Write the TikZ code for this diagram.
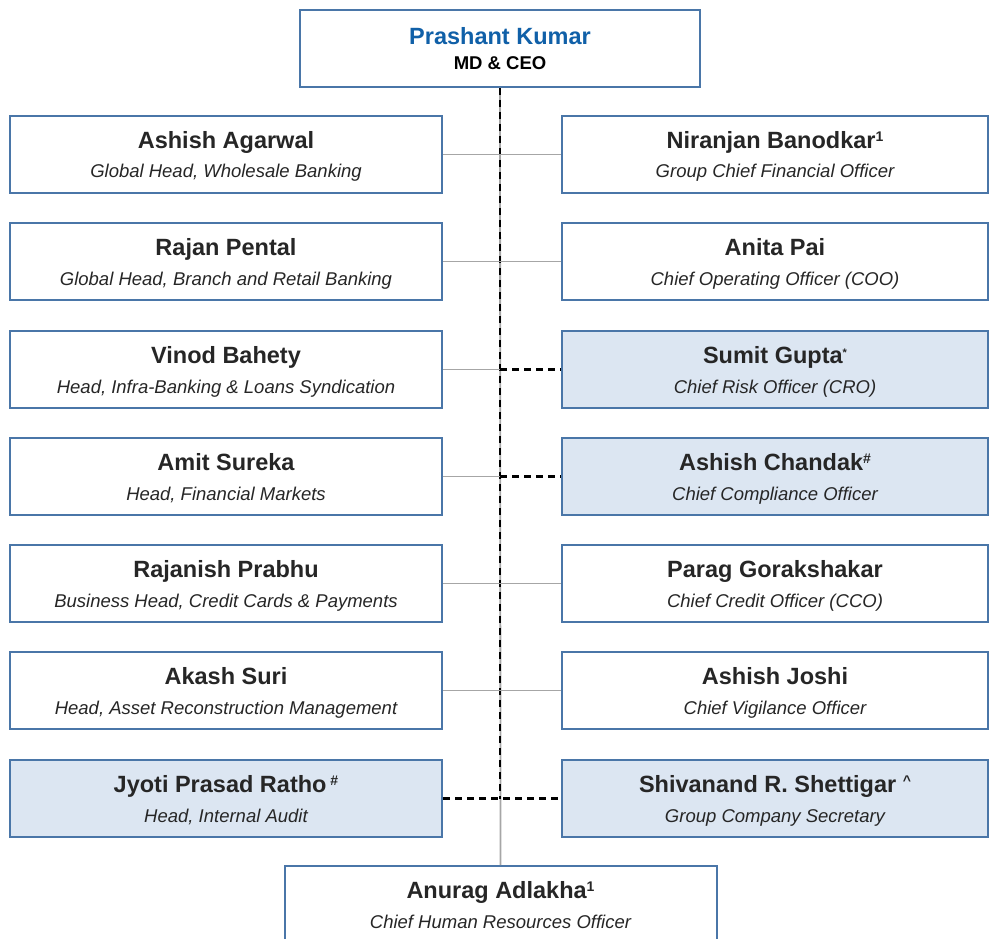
\documentclass[tikz,border=0pt]{standalone}
\usepackage{fontspec}
\setmainfont{Liberation Sans}
\usetikzlibrary{positioning}

\definecolor{boxblue}{RGB}{74,118,168}
\definecolor{boxfill}{RGB}{220,230,242}
\definecolor{ceoblue}{RGB}{16,96,168}
\definecolor{namegray}{RGB}{38,38,38}
\definecolor{linkgray}{RGB}{166,166,166}

% name line and title line, with struts so every box spaces them alike
\newcommand{\who}[2]{{\fontsize{23.5}{24}\selectfont\bfseries\rule[-6pt]{0pt}{31.3pt}#1}\\{\fontsize{18.5}{20}\selectfont\itshape\rule[-8pt]{0pt}{30.7pt}#2}}
% small mark after a name
\newcommand{\upmark}[1]{\raisebox{6.5pt}{\fontsize{14}{14}\selectfont #1}}

\tikzset{
  person/.style={draw=boxblue, line width=2pt, fill=white, text=namegray, align=center, inner sep=0pt, minimum height=77pt},
  lbox/.style={person, minimum width=432pt},
  rbox/.style={person, minimum width=426pt},
  shaded/.style={fill=boxfill},
  solidlink/.style={draw=linkgray, line width=1.8pt},
  dashlink/.style={draw=black, line width=2.2pt, dash pattern=on 7pt off 5pt}
}

\begin{document}
\begin{tikzpicture}[x=1pt,y=-1pt]
\useasboundingbox (0,0) rectangle (989,939);

%top of the chart
\node[person, minimum width=400pt] (ceo) at (500,48.5) {{\fontsize{23.5}{24}\selectfont\bfseries\color{ceoblue}\rule[-5pt]{0pt}{27.3pt}Prashant Kumar}\\{\fontsize{18.5}{20}\selectfont\bfseries\color{black}\rule[-5pt]{0pt}{23.3pt}MD \& CEO}};

%left column
\node[lbox] (l1) at (226,154.5) {\who{Ashish Agarwal}{Global Head, Wholesale Banking}};
\node[lbox] (l2) at (226,261.5) {\who{Rajan Pental}{Global Head, Branch and Retail Banking}};
\node[lbox] (l3) at (226,369.5) {\who{Vinod Bahety}{Head, Infra-Banking \& Loans Syndication}};
\node[lbox] (l4) at (226,476.5) {\who{Amit Sureka}{Head, Financial Markets}};
\node[lbox] (l5) at (226,583.5) {\who{Rajanish Prabhu}{Business Head, Credit Cards \& Payments}};
\node[lbox] (l6) at (226,690.5) {\who{Akash Suri}{Head, Asset Reconstruction Management}};
\node[lbox, shaded] (l7) at (226,798.5) {\who{Jyoti Prasad Ratho\,\upmark{\#}}{Head, Internal Audit}};

%right column
\node[rbox] (r1) at (775,154.5) {\who{Niranjan Banodkar\upmark{1}}{Group Chief Financial Officer}};
\node[rbox] (r2) at (775,261.5) {\who{Anita Pai}{Chief Operating Officer (COO)}};
\node[rbox, shaded] (r3) at (775,369.5) {\who{Sumit Gupta\upmark{\fontsize{11}{11}\selectfont*}}{Chief Risk Officer (CRO)}};
\node[rbox, shaded] (r4) at (775,476.5) {\who{Ashish Chandak\upmark{\#}}{Chief Compliance Officer}};
\node[rbox] (r5) at (775,583.5) {\who{Parag Gorakshakar}{Chief Credit Officer (CCO)}};
\node[rbox] (r6) at (775,690.5) {\who{Ashish Joshi}{Chief Vigilance Officer}};
\node[rbox, shaded] (r7) at (775,798.5) {\who{Shivanand R. Shettigar \upmark{\textasciicircum}}{Group Company Secretary}};

%bottom of the chart
\node[lbox] (chro) at (500.5,904.5) {\who{Anurag Adlakha\upmark{1}}{Chief Human Resources Officer}};

%spine
\draw[solidlink] (ceo.south) -- (chro.north);
\draw[dashlink] (ceo.south) -- (ceo.south |- l7.east);

%rows
\foreach \i in {1,2,5,6}
  \draw[solidlink] (l\i.east) -- (r\i.west);
\foreach \i in {3,4}{
  \draw[solidlink] (l\i.east) -- (l\i.east -| ceo.south);
  \draw[dashlink] (l\i.east -| ceo.south) -- (r\i.west);
}
\draw[dashlink] (l7.east) -- (r7.west);

\end{tikzpicture}
\end{document}
